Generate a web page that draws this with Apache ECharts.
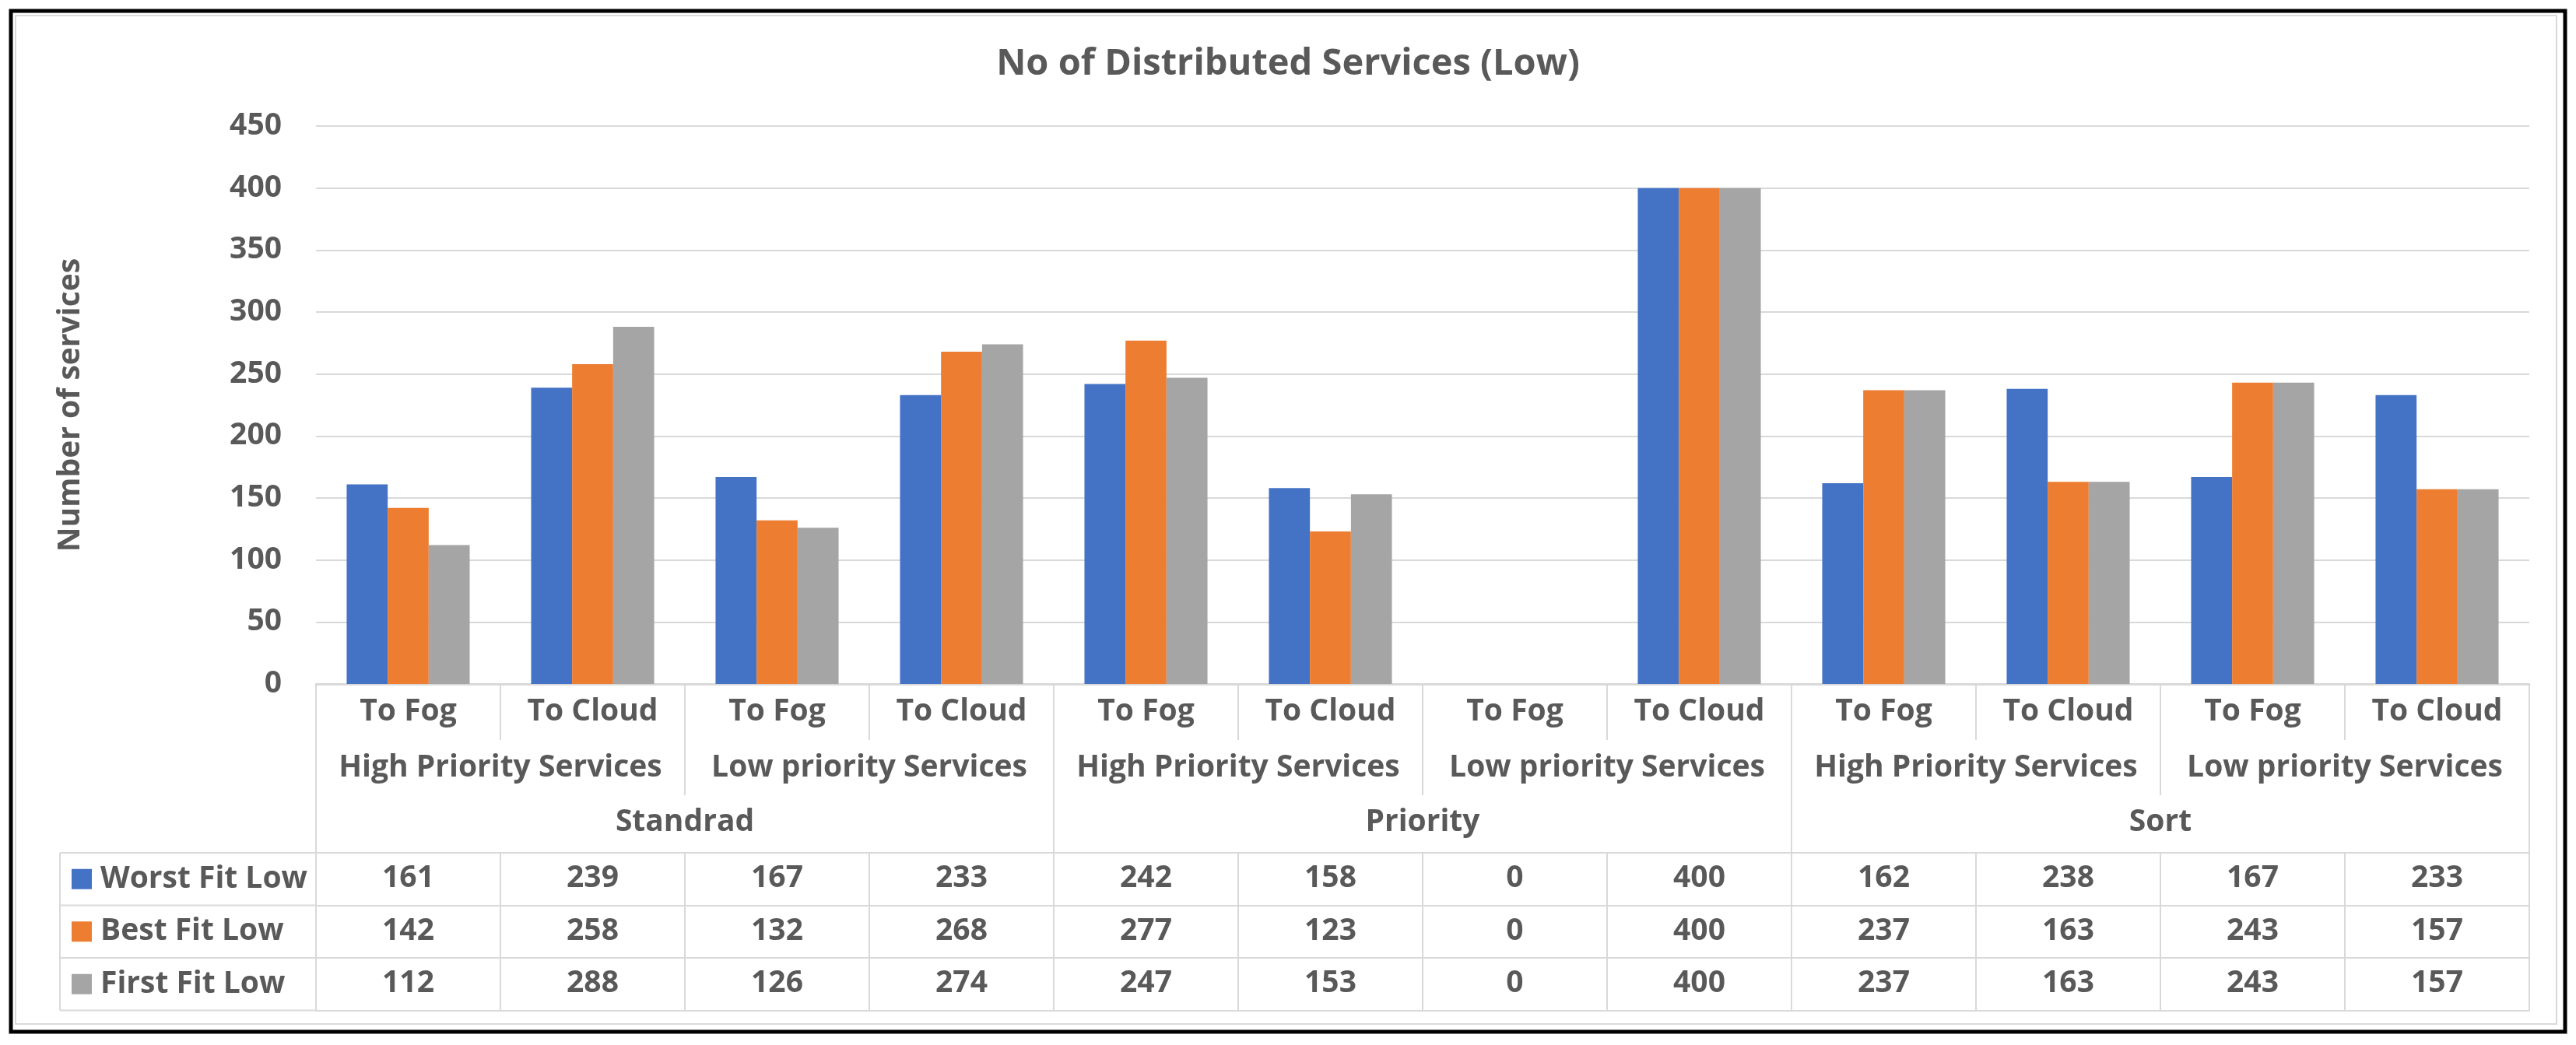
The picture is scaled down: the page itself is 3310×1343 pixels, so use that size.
<!DOCTYPE html>
<html>
<head>
<meta charset="utf-8">
<script src="https://cdn.jsdelivr.net/npm/echarts@6/dist/echarts.min.js"></script>
<style>
html,body{margin:0;padding:0;background:#fff;}
#chart{width:3310px;height:1343px;}
</style>
</head>
<body>
<div id="chart"></div>
<script>
// ---- data ----
var titleText = 'No of Distributed Services (Low)';
var yAxisTitle = 'Number of services';
var level1 = ['To Fog','To Cloud','To Fog','To Cloud','To Fog','To Cloud','To Fog','To Cloud','To Fog','To Cloud','To Fog','To Cloud'];
var level2 = ['High Priority Services','Low priority Services','High Priority Services','Low priority Services','High Priority Services','Low priority Services'];
var level3 = ['Standrad','Priority','Sort'];
var seriesNames = ['Worst Fit Low','Best Fit Low','First Fit Low'];
var worstFit = [161,239,167,233,242,158,0,400,162,238,167,233];
var bestFit  = [142,258,132,268,277,123,0,400,237,163,243,157];
var firstFit = [112,288,126,274,247,153,0,400,237,163,243,157];
var yTicks = [0,50,100,150,200,250,300,350,400,450];

// ---- styles ----
var FONT = 'Open Sans';
var TXT = '#595959';
var LINE = '#d9d9d9';
var COLORS = ['#4472C4','#ED7D31','#A5A5A5'];
var FS = 39;

var chart = echarts.init(document.getElementById('chart'), null, {renderer:'canvas'});

var gridLeft = 406, gridRight = 60, gridTop = 162, gridBottom = 464;
var axisY = 1343 - gridBottom; // 879
var rowTops = [1096, 1163.5, 1231, 1298.5];

function labelStyle(margin){
  return {show:true, interval:0, margin:margin, color:TXT, fontFamily:FONT, fontWeight:'bold', fontSize:FS, verticalAlign:'middle', hideOverlap:false};
}

var allSeries = [worstFit, bestFit, firstFit];

var xAxes = [
  { type:'category', data:level1, position:'bottom', offset:0,
    axisLine:{show:true, lineStyle:{color:LINE, width:3}},
    axisTick:{show:true, interval:0, length:72, lineStyle:{color:LINE, width:2}},
    axisLabel:labelStyle(36) },
  { type:'category', data:level2, position:'bottom', offset:0,
    axisLine:{show:false},
    axisTick:{show:true, interval:0, length:143, lineStyle:{color:LINE, width:2}},
    axisLabel:labelStyle(108) },
  { type:'category', data:level3, position:'bottom', offset:0,
    axisLine:{show:false},
    axisTick:{show:true, interval:0, length:rowTops[0]-axisY, lineStyle:{color:LINE, width:2}},
    axisLabel:labelStyle(178) }
];
allSeries.forEach(function(vals, i){
  xAxes.push({ type:'category', data:level1, position:'bottom', offset:rowTops[i]-axisY,
    axisLine:{show:true, lineStyle:{color:LINE, width:2}},
    axisTick:{show:true, interval:0, length:rowTops[i+1]-rowTops[i], lineStyle:{color:LINE, width:2}},
    axisLabel:Object.assign(labelStyle(33), {formatter:function(v, idx){ return String(vals[idx]); }}) });
});
xAxes.push({ type:'category', data:level1, position:'bottom', offset:rowTops[3]-axisY,
  axisLine:{show:true, lineStyle:{color:LINE, width:2}},
  axisTick:{show:false}, axisLabel:{show:false} });

var graphics = [
  {type:'rect', shape:{x:14, y:14, width:3282, height:1312}, style:{fill:null, stroke:'#000', lineWidth:5}, z:100},
  {type:'rect', shape:{x:20, y:20, width:3265, height:1296}, style:{fill:null, stroke:LINE, lineWidth:2}, z:100},
  {type:'line', shape:{x1:77, y1:rowTops[0], x2:77, y2:rowTops[3]}, style:{stroke:LINE, lineWidth:2}}
];
rowTops.forEach(function(y){
  graphics.push({type:'line', shape:{x1:77, y1:y, x2:gridLeft, y2:y}, style:{stroke:LINE, lineWidth:2}});
});

var option = {
  backgroundColor:'#fff',
  animation:false,
  color:COLORS,
  textStyle:{fontFamily:FONT},
  title:{ text:titleText, left:'center', top:59, padding:0,
    textStyle:{color:TXT, fontFamily:FONT, fontWeight:'bold', fontSize:47} },
  legend:{ orient:'vertical', left:92, top:rowTops[0], padding:0, itemGap:0,
    itemWidth:26, itemHeight:26, icon:'rect', selectedMode:false,
    data:seriesNames,
    textStyle:{color:TXT, fontFamily:FONT, fontWeight:'bold', fontSize:FS, lineHeight:67.5, padding:[0,0,0,6]} },
  grid:{ left:gridLeft, right:gridRight, top:gridTop, bottom:gridBottom, containLabel:false },
  xAxis:xAxes,
  yAxis:{ type:'value', min:yTicks[0], max:yTicks[yTicks.length-1], interval:yTicks[1]-yTicks[0],
    name:yAxisTitle, nameLocation:'middle', nameGap:296,
    nameTextStyle:{color:TXT, fontFamily:FONT, fontWeight:'bold', fontSize:FS},
    axisLine:{show:false}, axisTick:{show:false},
    axisLabel:{color:TXT, fontFamily:FONT, fontWeight:'bold', fontSize:FS, margin:44},
    splitLine:{show:true, lineStyle:{color:LINE, width:2}} },
  series: allSeries.map(function(vals, i){
    return { name:seriesNames[i], type:'bar', xAxisIndex:0, yAxisIndex:0, data:vals,
      barGap:'0%', barCategoryGap:'33.3%', itemStyle:{color:COLORS[i]} };
  }),
  graphic:graphics
};
chart.setOption(option);
</script>
</body>
</html>
